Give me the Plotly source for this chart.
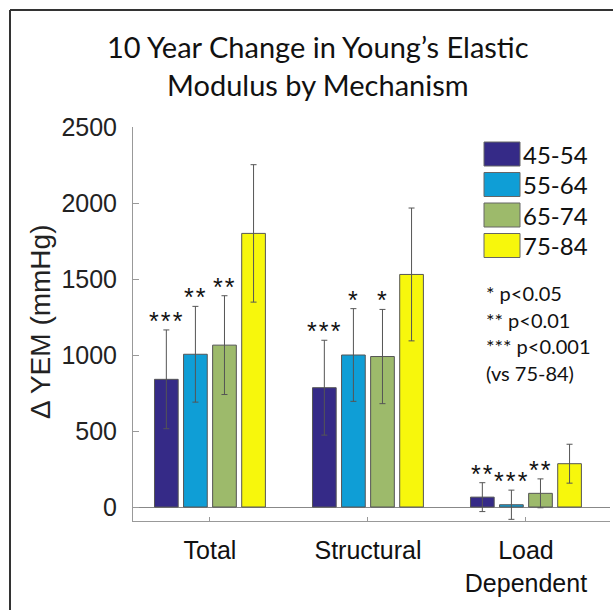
import plotly.graph_objects as go

# ---------------- data ----------------
categories = ["Total", "Structural", "Load<br>Dependent"]
cat_pos = [1, 2, 3]
groups = ["45-54", "55-64", "65-74", "75-84"]
colors = ["#352a87", "#0f9ed6", "#9dba6b", "#f7f70c"]

values = {
    "45-54": [840, 785, 65],
    "55-64": [1005, 1000, 15],
    "65-74": [1065, 990, 90],
    "75-84": [1800, 1530, 285],
}
errors = {
    "45-54": [325, 312, 95],
    "55-64": [315, 305, 96],
    "65-74": [325, 310, 95],
    "75-84": [452, 437, 128],
}
stars = {
    "45-54": ["***", "***", "**"],
    "55-64": ["**", "*", "***"],
    "65-74": ["**", "*", "**"],
    "75-84": ["", "", ""],
}
sig_notes = ["* p<0.05", "** p<0.01", "*** p<0.001", "(vs 75-84)"]
yticks = [0, 500, 1000, 1500, 2000, 2500]

# ---------------- layout helpers ----------------
W, H = 613, 610
L, R, T, B = 133, 610, 127, 521
def px(x):
    return (x - L) / (R - L)
def py(y):
    return (B - y) / (B - T)

BARGAP = 0.264
GROUPGAP = 0.185
slot = (1 - BARGAP) / len(groups)

fig = go.Figure()
for gi, g in enumerate(groups):
    fig.add_trace(go.Bar(
        x=cat_pos, y=values[g], name=g,
        marker=dict(color=colors[gi], line=dict(color="#555555", width=1)),
        error_y=dict(type="data", array=errors[g], color="#555555",
                     thickness=1, width=3),
        showlegend=False,
    ))

annotations = []
# significance stars
for gi, g in enumerate(groups):
    for ci, c in enumerate(cat_pos):
        s = stars[g][ci]
        if not s:
            continue
        annotations.append(dict(
            x=c + (gi - 1.5) * slot, y=values[g][ci] + errors[g][ci],
            xref="x", yref="y", text="\u200a".join(s), showarrow=False,
            yanchor="middle", yshift=9,
            font=dict(family="Liberation Sans", size=25, color="#111111"),
        ))

# manual legend
shapes = []
for gi, g in enumerate(groups):
    top = 142 + gi * 30.5
    shapes.append(dict(type="rect", xref="paper", yref="paper",
                       x0=px(484), x1=px(520), y0=py(top + 24), y1=py(top),
                       fillcolor=colors[gi], line=dict(color="#666666", width=1)))
    annotations.append(dict(x=px(521), y=py(top + 12), xref="paper", yref="paper",
                            text=g, showarrow=False, xanchor="left", yanchor="middle",
                            font=dict(family="Lato", size=24, color="#111111")))
for i, t in enumerate(sig_notes):
    annotations.append(dict(x=px(484), y=py(293 + i * 26.5), xref="paper", yref="paper",
                            text=t, showarrow=False, xanchor="left", yanchor="middle",
                            font=dict(family="Lato", size=20, color="#111111")))

# title
annotations.append(dict(x=px(318), y=py(66), xref="paper", yref="paper",
                        text="10 Year Change in Young’s Elastic<br>Modulus by Mechanism",
                        showarrow=False, xanchor="center", yanchor="middle",
                        font=dict(family="Lato", size=29, color="#111111")))
# y-axis title
annotations.append(dict(x=px(40), y=py(322), xref="paper", yref="paper",
                        text="Δ YEM (mmHg)", textangle=-90, showarrow=False,
                        xanchor="center", yanchor="middle",
                        font=dict(family="Liberation Sans", size=28, color="#222222")))

# image frame (top and left)
shapes.append(dict(type="line", xref="paper", yref="paper",
                   x0=px(10), x1=px(620), y0=py(10), y1=py(10),
                   line=dict(color="#333333", width=2)))
shapes.append(dict(type="line", xref="paper", yref="paper",
                   x0=px(10), x1=px(10), y0=py(10), y1=py(620),
                   line=dict(color="#333333", width=2)))

fig.update_layout(
    width=W, height=H,
    margin=dict(l=L, r=W - R, t=T, b=H - B, autoexpand=False),
    paper_bgcolor="white", plot_bgcolor="white",
    barmode="group", bargap=BARGAP, bargroupgap=GROUPGAP,
    annotations=annotations, shapes=shapes,
    showlegend=False,
)
fig.update_xaxes(
    range=[0.513, 3.532], tickvals=cat_pos, ticktext=categories,
    showline=True, linecolor="#999999", linewidth=1,
    ticks="inside", ticklen=4, tickcolor="#999999",
    showgrid=False, zeroline=False, ticklabelstandoff=7,
    tickfont=dict(family="Liberation Sans", size=25, color="#111111"),
)
fig.update_yaxes(
    range=[-92, 2500], tickvals=yticks,
    showline=True, linecolor="#999999", linewidth=1,
    ticks="inside", ticklen=6, tickcolor="#999999",
    showgrid=False, zeroline=True, zerolinecolor="#888888", zerolinewidth=1,
    ticklabelstandoff=10,
    tickfont=dict(family="Liberation Sans", size=25, color="#222222"),
)

fig.write_html("out.html")
